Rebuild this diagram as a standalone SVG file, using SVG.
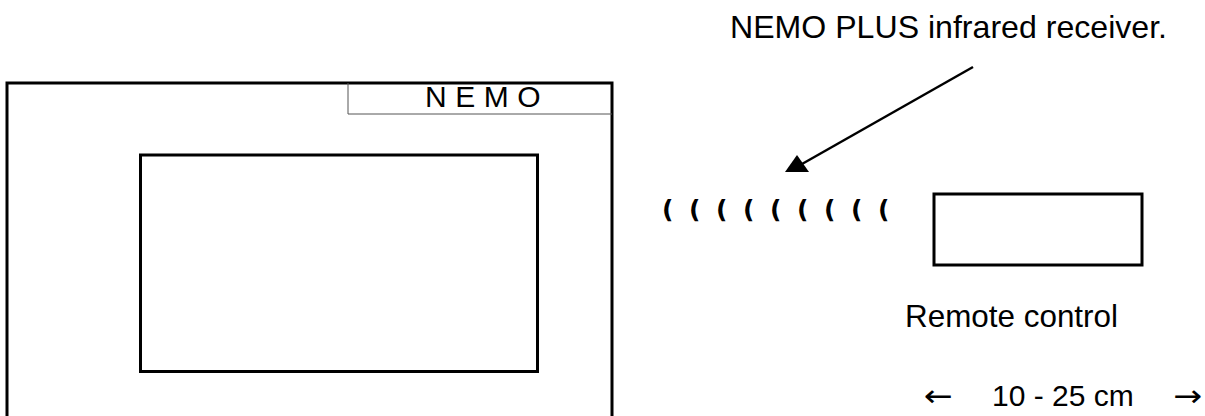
<svg xmlns="http://www.w3.org/2000/svg" width="1205" height="416" viewBox="0 0 1205 416">
<style>
.t{font-family:"Liberation Sans",Arial,sans-serif;fill:#000;font-size:30px}
.big{font-size:31.5px}
.ar{font-family:"DejaVu Sans",sans-serif;fill:#000;font-size:30px}
.p{font-family:"DejaVu Sans",sans-serif;fill:#000;font-size:25px;font-weight:bold}
.thick{fill:none;stroke:#000;stroke-width:3}
</style>
<rect width="1205" height="416" fill="#fff"/>
<g id="nemo">
<path class="thick" d="M7,418 V83 H612 V418"/>
<path d="M348,83 V114 H612" fill="none" stroke="#555" stroke-width="1"/>
<text class="t" x="425" y="107" letter-spacing="8.5">NEMO</text>
<rect class="thick" x="140.5" y="155" width="397" height="216.5"/>
</g>
<g id="receiver-label">
<text class="t big" x="730" y="38" textLength="437" lengthAdjust="spacingAndGlyphs">NEMO PLUS infrared receiver.</text>
</g>
<g id="ir-signal">
<text class="p" x="662" y="218">(</text>
<text class="p" x="689" y="218">(</text>
<text class="p" x="716" y="218">(</text>
<text class="p" x="743" y="218">(</text>
<text class="p" x="770" y="218">(</text>
<text class="p" x="797" y="218">(</text>
<text class="p" x="824" y="218">(</text>
<text class="p" x="851" y="218">(</text>
<text class="p" x="878" y="218">(</text>
</g>
<g id="remote">
<rect class="thick" x="934" y="194" width="208" height="71"/>
<text class="t big" x="905" y="327" textLength="213" lengthAdjust="spacingAndGlyphs">Remote control</text>
</g>
<g id="distance">
<text class="ar" x="924" y="406" textLength="29" lengthAdjust="spacingAndGlyphs">←</text>
<text class="t" x="992" y="406">10 - 25 cm</text>
<text class="ar" x="1173" y="406" textLength="29" lengthAdjust="spacingAndGlyphs">→</text>
</g>
<g id="connectors">
<line x1="973" y1="67" x2="802" y2="164" stroke="#000" stroke-width="2.5"/>
<polygon points="797,155 785,172 809,172" fill="#000"/>
</g>
</svg>
